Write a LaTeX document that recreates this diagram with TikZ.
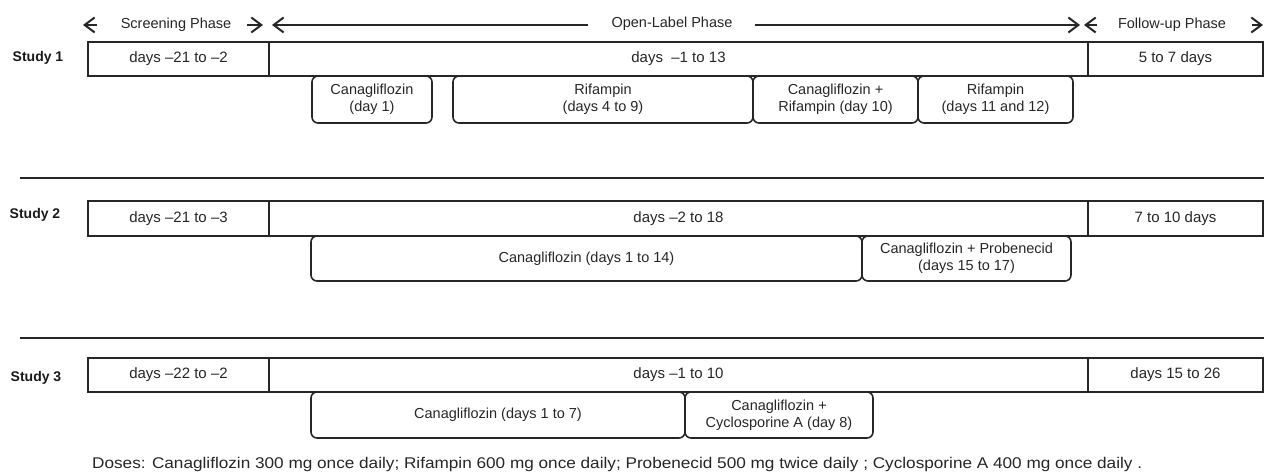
\documentclass[tikz,border=0pt]{standalone}
\usepackage{fontspec}
\usepackage{graphicx}
\setmainfont{Liberation Sans}
\usetikzlibrary{arrows.meta}
\begin{document}
\begin{tikzpicture}[x=1pt,y=-1pt,
  phasebox/.style={draw=black!85, line width=1.2pt, inner sep=0pt, outer sep=0pt, anchor=north west,
    font=\fontsize{15}{17}\selectfont, text=black!85},
  dosebox/.style={draw=black!85, line width=1.6pt, rounded corners=6pt, inner sep=0pt, outer sep=0pt,
    anchor=north west, align=center, font=\fontsize{14.5}{17}\selectfont, text=black!85},
  studylbl/.style={font=\bfseries\fontsize{14}{16}\selectfont, text=black!90},
  seprule/.style={line width=2.2pt, black!85},
  phasearrow/.style={line width=1.5pt, black!85, -{Straight Barb[length=10pt,width=15pt,line width=2pt]}},
  phaselbl/.style={font=\fontsize{14.5}{17}\selectfont, text=black!85},
  noteline/.style={font=\fontsize{15.5}{17}\selectfont, text=black!85, anchor=west, inner sep=0pt}
]
\useasboundingbox (0,0) rectangle (1266,473);

% ---------- phase headers ----------
\coordinate (scrL0) at (97,25);   \coordinate (scrL1) at (83,25);
\coordinate (scrR0) at (247,25);  \coordinate (scrR1) at (263,25);
\coordinate (opnL0) at (588,25);  \coordinate (opnL1) at (272,25);
\coordinate (opnR0) at (755,25);  \coordinate (opnR1) at (1080,25);
\coordinate (folL0) at (1097,25); \coordinate (folL1) at (1084,25);
\coordinate (folR0) at (1252,25); \coordinate (folR1) at (1263,25);
\draw[phasearrow] (scrL0) -- (scrL1);
\draw[phasearrow] (scrR0) -- (scrR1);
\draw[phasearrow] (opnL0) -- (opnL1);
\draw[phasearrow] (opnR0) -- (opnR1);
\draw[phasearrow] (folL0) -- (folL1);
\draw[phasearrow] (folR0) -- (folR1);
\node[phaselbl] (hscr) at (176,25) {Screening Phase};
\node[phaselbl] (hopn) at (672,24) {Open-Label Phase};
\node[phaselbl] (hfol) at (1172,25) {Follow-up Phase};

% ---------- Study 1 ----------
\node[studylbl] (st1) at (38,58) {Study 1};
\node[phasebox, minimum width=181pt, minimum height=34pt] (s1scr) at (88,42) {days –21 to –2};
\node[phasebox, minimum width=819pt, minimum height=34pt] (s1opn) at (269,42) {days\ \ –1 to 13};
\node[phasebox, minimum width=175pt, minimum height=34pt] (s1fol) at (1088,42) {5 to 7 days};
\node[dosebox, minimum width=120pt, minimum height=47pt] (s1a) at (312,76) {Canagliflozin\\(day 1)};
\node[dosebox, minimum width=300pt, minimum height=47pt] (s1b) at (453,76) {Rifampin\\(days 4 to 9)};
\node[dosebox, minimum width=165pt, minimum height=47pt] (s1c) at (753,76) {Canagliflozin +\\Rifampin (day 10)};
\node[dosebox, minimum width=155pt, minimum height=47pt] (s1d) at (918,76) {Rifampin\\(days 11 and 12)};

\coordinate (sepAL) at (20,178); \coordinate (sepAR) at (1264,178);
\draw[seprule] (sepAL) -- (sepAR);

% ---------- Study 2 ----------
\node[studylbl] (st2) at (35,215) {Study 2};
\node[phasebox, minimum width=181pt, minimum height=35pt] (s2scr) at (88,201) {days –21 to –3};
\node[phasebox, minimum width=819pt, minimum height=35pt] (s2opn) at (269,201) {days –2 to 18};
\node[phasebox, minimum width=175pt, minimum height=35pt] (s2fol) at (1088,201) {7 to 10 days};
\node[dosebox, minimum width=551pt, minimum height=45pt] (s2a) at (311,236) {Canagliflozin (days 1 to 14)};
\node[dosebox, minimum width=209pt, minimum height=45pt] (s2b) at (862,236) {Canagliflozin + Probenecid\\(days 15 to 17)};

\coordinate (sepBL) at (20,338); \coordinate (sepBR) at (1264,338);
\draw[seprule] (sepBL) -- (sepBR);

% ---------- Study 3 ----------
\node[studylbl] (st3) at (36,378) {Study 3};
\node[phasebox, minimum width=181pt, minimum height=34pt] (s3scr) at (88,358) {days –22 to –2};
\node[phasebox, minimum width=819pt, minimum height=34pt] (s3opn) at (269,358) {days –1 to 10};
\node[phasebox, minimum width=175pt, minimum height=34pt] (s3fol) at (1088,358) {days 15 to 26};
\node[dosebox, minimum width=374pt, minimum height=46pt] (s3a) at (311,392) {Canagliflozin (days 1 to 7)};
\node[dosebox, minimum width=188pt, minimum height=46pt] (s3b) at (685,392) {Canagliflozin +\\Cyclosporine A (day 8)};

% ---------- note ----------
\node[noteline] (doses) at (92,464) {\resizebox{1050pt}{\height}{Doses: Canagliflozin 300 mg once daily; Rifampin 600 mg once daily; Probenecid 500 mg twice daily ; Cyclosporine A 400 mg once daily .}};
\end{tikzpicture}
\end{document}
